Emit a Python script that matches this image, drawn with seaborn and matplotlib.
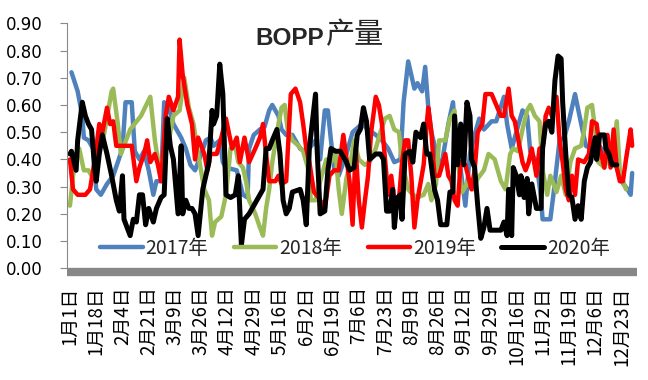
import numpy as np
import pandas as pd
import matplotlib
matplotlib.use("Agg")
import matplotlib.pyplot as plt
import matplotlib.dates as mdates
import seaborn as sns

# day of year (0 = 1月1日) and production value for each year
days_2017 = [1, 5, 8, 9, 12, 15, 17, 20, 24, 28, 31, 34, 36, 40, 42, 45, 48, 51, 54, 56,
             59, 61, 64, 67, 72, 75, 78, 81, 85, 88, 91, 93, 97, 99, 101, 108, 112, 115, 116, 119,
             123, 126, 129, 131, 135, 137, 140, 144, 149, 152, 155, 159, 162, 165, 167, 169, 171, 174, 179, 183,
             185, 189, 193, 198, 202, 206, 210, 214, 216, 219, 221, 223, 225, 228, 230, 232, 234, 237, 240, 245,
             248, 250, 253, 256, 259, 262, 265, 268, 273, 276, 281, 283, 286, 289, 293, 296, 298, 302, 305, 306,
             311, 313, 317, 320, 323, 327, 331, 334, 337, 340, 344, 348, 351, 354, 357, 361, 363, 364]
vals_2017 = [0.72, 0.65, 0.56, 0.48, 0.47, 0.44, 0.29, 0.27, 0.31, 0.34, 0.39, 0.44, 0.61, 0.61, 0.43, 0.40, 0.43, 0.36, 0.27, 0.32,
             0.32, 0.61, 0.59, 0.53, 0.48, 0.44, 0.38, 0.36, 0.42, 0.47, 0.48, 0.45, 0.47, 0.39, 0.37, 0.36, 0.27, 0.26, 0.44, 0.49,
             0.51, 0.52, 0.58, 0.60, 0.56, 0.51, 0.49, 0.49, 0.44, 0.43, 0.44, 0.47, 0.40, 0.58, 0.58, 0.47, 0.37, 0.34, 0.42, 0.50,
             0.51, 0.53, 0.51, 0.49, 0.47, 0.44, 0.39, 0.40, 0.61, 0.76, 0.71, 0.66, 0.68, 0.65, 0.74, 0.59, 0.50, 0.43, 0.36, 0.53,
             0.61, 0.44, 0.36, 0.23, 0.42, 0.49, 0.55, 0.51, 0.54, 0.54, 0.63, 0.53, 0.44, 0.50, 0.58, 0.56, 0.43, 0.39, 0.26, 0.18,
             0.18, 0.27, 0.47, 0.48, 0.54, 0.64, 0.53, 0.45, 0.44, 0.47, 0.44, 0.42, 0.43, 0.37, 0.32, 0.29, 0.27, 0.35]

days_2018 = [0, 3, 6, 9, 12, 14, 18, 22, 27, 28, 31, 33, 35, 39, 46, 52, 55, 58, 61, 64,
             67, 71, 74, 77, 80, 83, 87, 90, 92, 94, 98, 101, 104, 107, 109, 112, 114, 116, 120, 123,
             125, 127, 129, 131, 135, 137, 139, 141, 144, 148, 151, 154, 156, 159, 162, 166, 169, 172, 174, 176,
             179, 182, 184, 187, 191, 194, 198, 201, 204, 207, 210, 213, 215, 217, 219, 222, 225, 229, 232, 234,
             237, 239, 243, 246, 249, 251, 254, 258, 261, 264, 268, 271, 275, 279, 282, 285, 287, 290, 293, 296,
             298, 301, 304, 306, 309, 311, 315, 318, 321, 324, 327, 331, 333, 335, 338, 340, 342, 346, 349, 352,
             354, 356, 358, 360]
vals_2018 = [0.23, 0.39, 0.44, 0.36, 0.36, 0.34, 0.42, 0.49, 0.65, 0.66, 0.53, 0.42, 0.45, 0.51, 0.56, 0.63, 0.47, 0.36, 0.42, 0.47,
             0.56, 0.58, 0.70, 0.59, 0.53, 0.42, 0.29, 0.25, 0.12, 0.17, 0.19, 0.27, 0.44, 0.45, 0.39, 0.37, 0.32, 0.25, 0.20, 0.15,
             0.12, 0.22, 0.29, 0.39, 0.53, 0.59, 0.60, 0.51, 0.47, 0.45, 0.43, 0.37, 0.25, 0.25, 0.32, 0.40, 0.39, 0.42, 0.29, 0.20,
             0.33, 0.40, 0.47, 0.40, 0.38, 0.39, 0.44, 0.50, 0.55, 0.56, 0.51, 0.50, 0.39, 0.34, 0.29, 0.27, 0.26, 0.27, 0.31, 0.25,
             0.31, 0.47, 0.47, 0.55, 0.58, 0.39, 0.28, 0.32, 0.29, 0.33, 0.36, 0.42, 0.40, 0.32, 0.29, 0.42, 0.44, 0.43, 0.51, 0.58,
             0.60, 0.56, 0.54, 0.36, 0.27, 0.34, 0.28, 0.34, 0.27, 0.39, 0.44, 0.45, 0.51, 0.59, 0.60, 0.51, 0.39, 0.37, 0.42, 0.42,
             0.54, 0.36, 0.32, 0.29]

days_2019 = [0, 2, 5, 10, 13, 15, 17, 19, 21, 24, 26, 28, 30, 34, 40, 43, 45, 48, 50, 52,
             55, 57, 59, 62, 64, 67, 70, 71, 73, 76, 79, 81, 83, 87, 89, 91, 95, 98, 101, 105,
             108, 110, 113, 116, 120, 123, 125, 127, 129, 133, 135, 137, 140, 143, 146, 149, 151, 153, 155, 158,
             161, 165, 168, 171, 174, 177, 181, 183, 185, 187, 189, 191, 193, 195, 198, 200, 202, 204, 206, 208,
             210, 213, 215, 217, 219, 221, 223, 225, 229, 231, 232, 234, 236, 239, 243, 245, 247, 249, 251, 253,
             256, 260, 262, 264, 267, 269, 273, 276, 279, 281, 284, 286, 288, 291, 293, 295, 297, 299, 302, 304,
             306, 308, 310, 312, 315, 317, 319, 321, 323, 325, 327, 329, 333, 336, 338, 341, 343, 346, 348, 350,
             352, 354, 356, 358, 360, 363, 364]
vals_2019 = [0.40, 0.29, 0.27, 0.27, 0.29, 0.36, 0.44, 0.53, 0.50, 0.59, 0.53, 0.54, 0.45, 0.45, 0.45, 0.32, 0.37, 0.42, 0.47, 0.39,
             0.42, 0.38, 0.32, 0.56, 0.63, 0.58, 0.63, 0.84, 0.71, 0.60, 0.53, 0.40, 0.48, 0.42, 0.36, 0.42, 0.42, 0.48, 0.55, 0.44,
             0.48, 0.39, 0.48, 0.39, 0.44, 0.48, 0.53, 0.42, 0.32, 0.32, 0.34, 0.31, 0.32, 0.64, 0.66, 0.61, 0.53, 0.44, 0.39, 0.28,
             0.26, 0.22, 0.34, 0.36, 0.36, 0.49, 0.32, 0.16, 0.44, 0.25, 0.15, 0.25, 0.34, 0.50, 0.63, 0.60, 0.53, 0.40, 0.27, 0.34,
             0.25, 0.25, 0.39, 0.47, 0.47, 0.34, 0.15, 0.25, 0.38, 0.53, 0.59, 0.50, 0.34, 0.34, 0.42, 0.34, 0.32, 0.25, 0.23, 0.39,
             0.38, 0.29, 0.36, 0.50, 0.53, 0.64, 0.64, 0.60, 0.56, 0.56, 0.66, 0.56, 0.54, 0.45, 0.39, 0.36, 0.39, 0.44, 0.34, 0.44,
             0.44, 0.56, 0.59, 0.56, 0.63, 0.47, 0.39, 0.29, 0.25, 0.34, 0.27, 0.40, 0.39, 0.42, 0.54, 0.53, 0.44, 0.37, 0.49, 0.37,
             0.51, 0.37, 0.32, 0.32, 0.40, 0.51, 0.45]

days_2020 = [0, 1, 4, 5, 8, 10, 12, 14, 16, 17, 19, 21, 24, 27, 30, 32, 34, 35, 39, 41,
             43, 45, 47, 49, 51, 54, 56, 59, 61, 63, 65, 67, 70, 72, 73, 75, 77, 79, 81, 83,
             86, 88, 90, 92, 93, 95, 97, 99, 101, 104, 107, 109, 111, 113, 116, 119, 122, 125, 127, 129,
             131, 134, 136, 138, 140, 142, 144, 149, 151, 153, 155, 157, 159, 160, 162, 165, 167, 169, 172, 175,
             179, 181, 184, 186, 188, 190, 192, 194, 198, 201, 203, 205, 207, 209, 210, 212, 214, 215, 217, 220,
             222, 224, 227, 229, 231, 233, 236, 238, 240, 244, 246, 248, 249, 251, 253, 255, 257, 259, 260, 262,
             264, 266, 268, 270, 272, 276, 279, 281, 283, 284, 286, 287, 289, 291, 292, 294, 296, 297, 299, 302,
             305, 306, 308, 310, 312, 314, 316, 318, 319, 321, 323, 325, 327, 329, 331, 333, 335, 337, 338, 340,
             341, 343, 346, 347, 349, 351, 354]
vals_2020 = [0.42, 0.43, 0.36, 0.47, 0.61, 0.56, 0.53, 0.51, 0.37, 0.32, 0.42, 0.49, 0.42, 0.34, 0.25, 0.21, 0.34, 0.18, 0.12, 0.18,
             0.17, 0.27, 0.27, 0.16, 0.22, 0.17, 0.22, 0.26, 0.27, 0.55, 0.45, 0.40, 0.20, 0.45, 0.20, 0.25, 0.22, 0.22, 0.20, 0.12,
             0.29, 0.34, 0.39, 0.58, 0.53, 0.56, 0.75, 0.64, 0.27, 0.26, 0.27, 0.34, 0.085, 0.18, 0.20, 0.23, 0.26, 0.29, 0.44, 0.44,
             0.47, 0.51, 0.42, 0.25, 0.20, 0.22, 0.28, 0.29, 0.25, 0.16, 0.44, 0.54, 0.64, 0.44, 0.20, 0.21, 0.36, 0.44, 0.43, 0.43,
             0.39, 0.36, 0.37, 0.49, 0.51, 0.59, 0.54, 0.40, 0.42, 0.42, 0.40, 0.21, 0.21, 0.29, 0.15, 0.26, 0.27, 0.18, 0.42, 0.43,
             0.39, 0.50, 0.48, 0.53, 0.42, 0.42, 0.29, 0.25, 0.16, 0.16, 0.28, 0.28, 0.56, 0.38, 0.53, 0.38, 0.61, 0.56, 0.40, 0.37,
             0.23, 0.11, 0.15, 0.22, 0.14, 0.14, 0.14, 0.17, 0.12, 0.29, 0.12, 0.37, 0.34, 0.27, 0.34, 0.26, 0.33, 0.20, 0.31, 0.22,
             0.22, 0.44, 0.53, 0.54, 0.50, 0.69, 0.78, 0.77, 0.61, 0.42, 0.27, 0.26, 0.18, 0.23, 0.18, 0.32, 0.37, 0.39, 0.42, 0.48,
             0.40, 0.49, 0.49, 0.44, 0.42, 0.38, 0.38]

series_names = ["2017年", "2018年", "2019年", "2020年"]
series_colors = ["#4F81BD", "#9BBB59", "#FF0000", "#000000"]
tick_days = list(range(0, 358, 17))   # 1月1日 ... 12月23日, every 17 days
y_ticks = [0.0, 0.1, 0.2, 0.3, 0.4, 0.5, 0.6, 0.7, 0.8, 0.9]

base = pd.Timestamp("2020-01-01")
frames = []
for name, d, v in zip(series_names, [days_2017, days_2018, days_2019, days_2020],
                      [vals_2017, vals_2018, vals_2019, vals_2020]):
    frames.append(pd.DataFrame({"date": base + pd.to_timedelta(d, unit="D"), "value": v, "year": name}))
df = pd.concat(frames, ignore_index=True)

sns.set_style("white")
plt.rcParams["font.family"] = ["DejaVu Sans", "Noto Sans CJK SC"]

fig = plt.figure(figsize=(6.48, 3.8), dpi=100)
ax = fig.add_axes([67 / 648, 1 - 268.3 / 380, 569.5 / 648, 245 / 380])

sns.lineplot(data=df, x="date", y="value", hue="year", hue_order=series_names,
             palette=dict(zip(series_names, series_colors)), estimator=None,
             linewidth=3.2, legend=False, ax=ax)
for line in ax.lines:
    line.set_solid_joinstyle("round")
    line.set_solid_capstyle("round")
ax.lines[3].set_linewidth(3.6)

# axes
ax.spines["top"].set_visible(False)
ax.spines["right"].set_visible(False)
ax.spines["left"].set_color("#898989")
ax.spines["left"].set_linewidth(0.8)
ax.spines["bottom"].set_color("#878787")
ax.spines["bottom"].set_linewidth(6)
ax.spines["bottom"].set_capstyle("butt")
ax.spines["bottom"].set_position(("outward", 3))
ax.tick_params(axis="y", left=True, length=5.25, width=0.8, color="#898989", pad=12.5, labelcolor="black")
ax.tick_params(axis="x", bottom=True, length=0, pad=10, labelcolor="black", labelrotation=90)

x0 = mdates.date2num(base)
ax.set_xlim(x0 - 1.9, x0 + 366.8)
ax.set_ylim(0, 0.9)
tick_dates = [base + pd.Timedelta(days=d) for d in tick_days]
ax.set_xticks([mdates.date2num(t) for t in tick_dates])
ax.set_xticklabels([f"{t.month}月{t.day}日" for t in tick_dates], rotation=90,
                   fontsize=13.5, fontfamily="Noto Sans CJK SC", va="top", ha="center")
ax.set_yticks(y_ticks)
ax.set_yticklabels([f"{v:.2f}" for v in y_ticks], fontsize=12, fontfamily="DejaVu Sans")
ax.set_xlabel("")
ax.set_ylabel("")

# title: latin part bold, chinese part regular
fig.text(324 / 648, 1 - 45 / 380, "BOPP", ha="right", va="baseline",
         fontsize=17.5, fontweight="bold", fontfamily="Liberation Sans")
fig.text(326 / 648, 1 - 43.5 / 380, "产量", ha="left", va="baseline",
         fontsize=21, fontfamily="Noto Sans CJK SC")

ax.legend(ax.lines[:4], series_names, ncol=4, frameon=False, loc="center",
          bbox_to_anchor=(355 / 648, 1 - 248 / 380), bbox_transform=fig.transFigure,
          prop={"family": "Noto Sans CJK SC", "size": 14},
          handlelength=2.2, handletextpad=0.15, columnspacing=1.3)

fig.savefig("out.png", dpi=100)
